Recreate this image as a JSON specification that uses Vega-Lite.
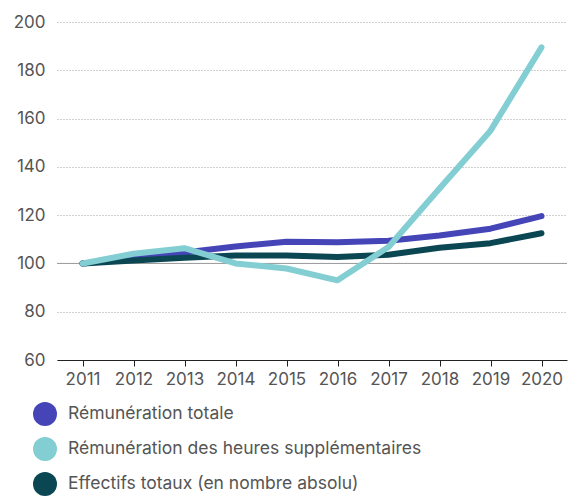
{
  "$schema": "https://vega.github.io/schema/vega-lite/v6.json",
  "autosize": "none",
  "width": 510,
  "height": 338,
  "padding": {"left": 57, "top": 22, "right": 1, "bottom": 136},
  "config": {
    "view": {"stroke": null},
    "font": "Inter",
    "axis": {"labelFont": "Inter", "labelColor": "#555555", "labelFontSize": 17}
  },
  "datasets": {
    "series": [
      {"annee": "2011", "serie": "Rémunération totale", "valeur": 100},
      {"annee": "2012", "serie": "Rémunération totale", "valeur": 102},
      {"annee": "2013", "serie": "Rémunération totale", "valeur": 104.5},
      {"annee": "2014", "serie": "Rémunération totale", "valeur": 107},
      {"annee": "2015", "serie": "Rémunération totale", "valeur": 109},
      {"annee": "2016", "serie": "Rémunération totale", "valeur": 108.8},
      {"annee": "2017", "serie": "Rémunération totale", "valeur": 109.4},
      {"annee": "2018", "serie": "Rémunération totale", "valeur": 111.6},
      {"annee": "2019", "serie": "Rémunération totale", "valeur": 114.4},
      {"annee": "2020", "serie": "Rémunération totale", "valeur": 119.6},
      {"annee": "2011", "serie": "Effectifs totaux (en nombre absolu)", "valeur": 100},
      {"annee": "2012", "serie": "Effectifs totaux (en nombre absolu)", "valeur": 101.2},
      {"annee": "2013", "serie": "Effectifs totaux (en nombre absolu)", "valeur": 102.4},
      {"annee": "2014", "serie": "Effectifs totaux (en nombre absolu)", "valeur": 103.3},
      {"annee": "2015", "serie": "Effectifs totaux (en nombre absolu)", "valeur": 103.3},
      {"annee": "2016", "serie": "Effectifs totaux (en nombre absolu)", "valeur": 102.7},
      {"annee": "2017", "serie": "Effectifs totaux (en nombre absolu)", "valeur": 103.6},
      {"annee": "2018", "serie": "Effectifs totaux (en nombre absolu)", "valeur": 106.5},
      {"annee": "2019", "serie": "Effectifs totaux (en nombre absolu)", "valeur": 108.4},
      {"annee": "2020", "serie": "Effectifs totaux (en nombre absolu)", "valeur": 112.5},
      {"annee": "2011", "serie": "Rémunération des heures supplémentaires", "valeur": 100},
      {"annee": "2012", "serie": "Rémunération des heures supplémentaires", "valeur": 104},
      {"annee": "2013", "serie": "Rémunération des heures supplémentaires", "valeur": 106.3},
      {"annee": "2014", "serie": "Rémunération des heures supplémentaires", "valeur": 100},
      {"annee": "2015", "serie": "Rémunération des heures supplémentaires", "valeur": 97.9},
      {"annee": "2016", "serie": "Rémunération des heures supplémentaires", "valeur": 93},
      {"annee": "2017", "serie": "Rémunération des heures supplémentaires", "valeur": 106.8},
      {"annee": "2018", "serie": "Rémunération des heures supplémentaires", "valeur": 131},
      {"annee": "2019", "serie": "Rémunération des heures supplémentaires", "valeur": 155},
      {"annee": "2020", "serie": "Rémunération des heures supplémentaires", "valeur": 189.5}
    ],
    "reference": [{"ref": 100}]
  },
  "layer": [
    {
      "data": {"name": "reference"},
      "mark": {"type": "rule", "color": "#9a9a9a", "strokeWidth": 1},
      "encoding": {"y": {"field": "ref", "type": "quantitative", "scale": {"domain": [60, 200]}}}
    },
    {
      "data": {"name": "series"},
      "mark": {"type": "line", "strokeWidth": 6, "strokeCap": "round", "strokeJoin": "round"},
      "encoding": {
        "x": {
          "field": "annee", "type": "ordinal", "title": null,
          "scale": {"type": "point", "padding": 0.5},
          "axis": {"labelAngle": 0, "domainColor": "#222222", "tickColor": "#222222", "tickSize": 6, "labelPadding": 5, "grid": false}
        },
        "y": {
          "field": "valeur", "type": "quantitative", "title": null,
          "scale": {"domain": [60, 200], "nice": false, "zero": false},
          "axis": {"values": [60, 80, 100, 120, 140, 160, 180, 200], "domain": false, "ticks": false, "labelPadding": 12, "gridColor": "#a0a0a0", "gridDash": [1, 2], "gridWidth": 1}
        },
        "color": {
          "field": "serie", "type": "nominal",
          "scale": {
            "domain": ["Rémunération totale", "Rémunération des heures supplémentaires", "Effectifs totaux (en nombre absolu)"],
            "range": ["#4545b8", "#82ced3", "#0b4653"]
          },
          "legend": {
            "title": null, "orient": "none", "legendX": -24, "legendY": 380,
            "direction": "vertical", "symbolType": "circle", "symbolSize": 576,
            "symbolStrokeWidth": 0, "symbolOpacity": 1,
            "labelFont": "Inter", "labelFontSize": 17.5, "labelColor": "#555555",
            "labelOffset": 11, "rowPadding": 11, "symbolLimit": 0, "labelLimit": 0,
            "encode": {"symbols": {"update": {"fill": {"scale": "color", "field": "value"}, "strokeWidth": {"value": 0}, "opacity": {"value": 1}}}}
          }
        },
        "order": {"value": 0}
      }
    }
  ]
}
